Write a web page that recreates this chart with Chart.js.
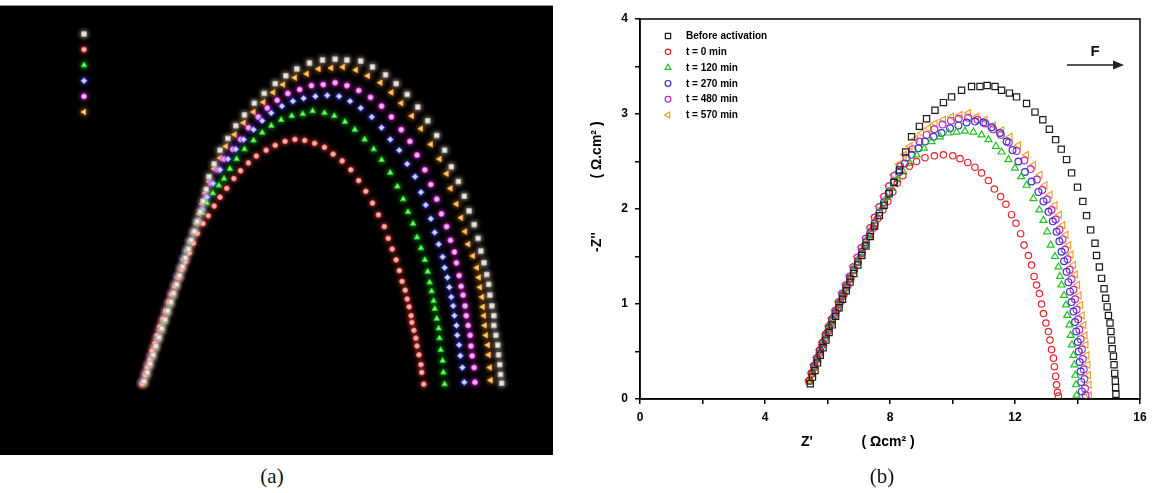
<!DOCTYPE html>
<html>
<head>
<meta charset="utf-8">
<script src="https://cdn.jsdelivr.net/npm/chart.js@4/dist/chart.umd.min.js"></script>
<style>
  html, body { margin: 0; padding: 0; background: #fff; }
  body { width: 1155px; height: 493px; position: relative; overflow: hidden; }
  #panelA { position: absolute; left: 0; top: 5px; width: 553px; height: 450px; background: #000; border-top: 1px solid #9a9a9a; box-sizing: border-box; }
  #panelB { position: absolute; left: 575px; top: 0; width: 580px; height: 465px; }
  .cap { position: absolute; top: 464px; font: 21px "Liberation Serif", "Times New Roman", serif; color: #111; transform: translateX(-50%); }
</style>
</head>
<body>
<div id="panelA"><canvas id="chartA"></canvas></div>
<div id="panelB"><canvas id="chartB"></canvas></div>
<div class="cap" style="left:272px">(a)</div>
<div class="cap" style="left:882px">(b)</div>

<script>
/* two Nyquist plots: (a) dark version, (b) Z' vs -Z'' in ohm.cm2 */
const FONT = '"Liberation Sans", Arial, Helvetica, sans-serif';
Chart.defaults.font.family = FONT;

const seriesLabels = ["Before activation", "t = 0 min", "t = 120 min", "t = 270 min", "t = 480 min", "t = 570 min"];
const xTickLabels = [0, 4, 8, 12, 16];
const yTickLabels = [0, 1, 2, 3, 4];

// ---- panel (b) data [Z', -Z''] ----
const bBefore = [[5.45,0.16],[5.52,0.23],[5.6,0.3],[5.68,0.38],[5.77,0.46],[5.86,0.54],[5.95,0.62],[6.05,0.7],[6.15,0.78],[6.26,0.87],[6.37,0.96],[6.48,1.05],[6.6,1.14],[6.72,1.23],[6.84,1.32],[6.97,1.41],[7.1,1.51],[7.23,1.61],[7.37,1.71],[7.51,1.82],[7.66,1.93],[7.81,2.04],[7.97,2.16],[8.13,2.28],[8.3,2.41],[8.5,2.6],[8.69,2.76],[8.94,2.87],[9.17,2.95],[9.44,3.04],[9.71,3.12],[9.97,3.18],[10.29,3.25],[10.61,3.29],[10.88,3.29],[11.11,3.3],[11.36,3.29],[11.57,3.25],[11.82,3.22],[12.05,3.18],[12.37,3.11],[12.64,3.02],[12.89,2.94],[13.1,2.84],[13.3,2.73],[13.48,2.63],[13.65,2.52],[13.81,2.38],[14.0,2.23],[14.17,2.08],[14.29,1.93],[14.42,1.78],[14.56,1.64],[14.61,1.51],[14.7,1.39],[14.77,1.27],[14.85,1.16],[14.9,1.06],[14.95,0.97],[14.99,0.88],[15.04,0.8],[15.07,0.71],[15.09,0.62],[15.11,0.53],[15.15,0.45],[15.17,0.36],[15.19,0.27],[15.21,0.19],[15.22,0.12],[15.23,0.05]];
const bT0 = [[5.42,0.19],[5.49,0.26],[5.57,0.33],[5.65,0.41],[5.74,0.48],[5.82,0.56],[5.92,0.64],[6.01,0.71],[6.1,0.79],[6.21,0.87],[6.31,0.94],[6.42,1.02],[6.53,1.1],[6.65,1.19],[6.75,1.27],[6.86,1.36],[6.97,1.44],[7.09,1.53],[7.2,1.62],[7.34,1.71],[7.47,1.8],[7.61,1.9],[7.77,1.99],[7.93,2.08],[8.09,2.18],[8.23,2.27],[8.41,2.35],[8.62,2.45],[8.85,2.5],[9.12,2.54],[9.42,2.56],[9.71,2.57],[10.01,2.56],[10.24,2.53],[10.49,2.49],[10.72,2.44],[10.93,2.38],[11.15,2.3],[11.34,2.21],[11.54,2.13],[11.71,2.05],[11.89,1.94],[12.03,1.85],[12.18,1.74],[12.29,1.62],[12.43,1.51],[12.53,1.41],[12.61,1.29],[12.69,1.2],[12.78,1.11],[12.85,1.0],[12.91,0.9],[12.99,0.8],[13.07,0.71],[13.12,0.62],[13.17,0.52],[13.23,0.43],[13.26,0.34],[13.3,0.24],[13.33,0.15],[13.36,0.07],[13.39,0.03]];
const bT120 = [[5.42,0.18],[5.5,0.26],[5.58,0.34],[5.67,0.42],[5.76,0.5],[5.85,0.58],[5.94,0.66],[6.04,0.74],[6.14,0.82],[6.24,0.9],[6.35,0.98],[6.46,1.07],[6.57,1.16],[6.69,1.25],[6.81,1.34],[6.93,1.43],[7.06,1.52],[7.19,1.62],[7.32,1.72],[7.46,1.82],[7.6,1.92],[7.75,2.02],[7.9,2.12],[8.06,2.22],[8.24,2.31],[8.43,2.39],[8.64,2.48],[8.85,2.57],[9.09,2.64],[9.33,2.71],[9.6,2.76],[9.87,2.8],[10.13,2.81],[10.4,2.82],[10.67,2.81],[10.93,2.78],[11.15,2.73],[11.39,2.66],[11.57,2.6],[11.79,2.52],[12.0,2.43],[12.2,2.34],[12.37,2.25],[12.59,2.11],[12.78,1.99],[12.91,1.88],[13.03,1.76],[13.14,1.62],[13.28,1.5],[13.39,1.39],[13.44,1.29],[13.49,1.2],[13.57,1.09],[13.63,0.99],[13.67,0.88],[13.74,0.78],[13.78,0.67],[13.82,0.57],[13.87,0.46],[13.9,0.36],[13.93,0.25],[13.95,0.15],[13.97,0.04]];
const bT270 = [[5.42,0.19],[5.5,0.27],[5.58,0.35],[5.67,0.43],[5.76,0.51],[5.85,0.59],[5.95,0.67],[6.05,0.75],[6.15,0.83],[6.26,0.91],[6.37,1.0],[6.48,1.09],[6.6,1.18],[6.72,1.27],[6.84,1.36],[6.97,1.45],[7.1,1.55],[7.23,1.65],[7.37,1.75],[7.51,1.85],[7.66,1.96],[7.81,2.07],[7.97,2.18],[8.13,2.29],[8.3,2.39],[8.48,2.48],[8.69,2.57],[8.91,2.64],[9.12,2.71],[9.39,2.76],[9.65,2.8],[9.92,2.85],[10.19,2.88],[10.45,2.91],[10.72,2.92],[10.99,2.91],[11.25,2.86],[11.52,2.8],[11.73,2.71],[11.92,2.62],[12.11,2.5],[12.32,2.39],[12.53,2.29],[12.75,2.18],[12.91,2.08],[13.07,1.97],[13.21,1.87],[13.33,1.76],[13.42,1.66],[13.49,1.55],[13.57,1.45],[13.65,1.34],[13.71,1.23],[13.76,1.13],[13.81,1.02],[13.87,0.92],[13.92,0.81],[13.96,0.71],[14.01,0.6],[14.04,0.5],[14.07,0.39],[14.1,0.29],[14.12,0.18],[14.14,0.08]];
const bT480 = [[5.41,0.19],[5.49,0.27],[5.57,0.35],[5.66,0.43],[5.75,0.51],[5.84,0.59],[5.94,0.68],[6.04,0.76],[6.14,0.84],[6.25,0.93],[6.36,1.02],[6.47,1.11],[6.59,1.2],[6.71,1.29],[6.83,1.39],[6.96,1.49],[7.09,1.59],[7.23,1.69],[7.37,1.8],[7.51,1.91],[7.66,2.02],[7.81,2.13],[7.97,2.24],[8.14,2.35],[8.33,2.45],[8.52,2.54],[8.72,2.63],[8.94,2.71],[9.17,2.78],[9.42,2.84],[9.68,2.89],[9.95,2.93],[10.2,2.95],[10.5,2.96],[10.8,2.94],[11.05,2.9],[11.3,2.84],[11.55,2.78],[11.8,2.7],[12.05,2.61],[12.3,2.51],[12.5,2.42],[12.7,2.31],[12.87,2.2],[13.02,2.1],[13.17,1.99],[13.3,1.89],[13.42,1.78],[13.52,1.68],[13.6,1.57],[13.68,1.47],[13.75,1.36],[13.81,1.26],[13.87,1.15],[13.92,1.05],[13.97,0.94],[14.02,0.84],[14.06,0.73],[14.1,0.63],[14.14,0.52],[14.17,0.42],[14.2,0.31],[14.22,0.21],[14.24,0.11],[14.26,0.04]];
const bT570 = [[5.4,0.2],[5.48,0.28],[5.56,0.36],[5.65,0.44],[5.74,0.52],[5.83,0.6],[5.93,0.68],[6.03,0.77],[6.13,0.85],[6.24,0.94],[6.35,1.03],[6.46,1.12],[6.58,1.21],[6.7,1.3],[6.82,1.4],[6.95,1.5],[7.08,1.6],[7.22,1.7],[7.36,1.81],[7.5,1.92],[7.65,2.03],[7.8,2.14],[7.96,2.25],[8.12,2.36],[8.29,2.47],[8.46,2.57],[8.64,2.66],[8.82,2.74],[9.01,2.8],[9.23,2.85],[9.44,2.9],[9.71,2.94],[9.97,2.97],[10.24,2.99],[10.51,3.01],[10.77,2.97],[11.04,2.94],[11.31,2.88],[11.57,2.83],[11.84,2.76],[12.11,2.67],[12.37,2.57],[12.59,2.46],[12.8,2.36],[12.96,2.25],[13.12,2.15],[13.28,2.04],[13.42,1.94],[13.53,1.83],[13.63,1.73],[13.72,1.62],[13.79,1.52],[13.87,1.41],[13.93,1.31],[14.0,1.2],[14.05,1.09],[14.1,0.99],[14.15,0.88],[14.2,0.78],[14.24,0.67],[14.27,0.57],[14.3,0.46],[14.33,0.36],[14.35,0.25],[14.37,0.15],[14.38,0.04]];

// ---- panel (a) data (no axes shown) ----
const aBefore = [[5.45,0.21],[5.53,0.3],[5.6,0.39],[5.68,0.48],[5.75,0.57],[5.83,0.66],[5.9,0.75],[5.98,0.84],[6.05,0.93],[6.13,1.02],[6.2,1.11],[6.28,1.2],[6.35,1.29],[6.43,1.38],[6.5,1.47],[6.58,1.56],[6.65,1.65],[6.73,1.74],[6.8,1.84],[6.88,1.94],[6.95,2.05],[7.03,2.17],[7.1,2.3],[7.23,2.43],[7.38,2.57],[7.58,2.69],[7.78,2.82],[8.0,2.93],[8.25,3.05],[8.5,3.15],[8.78,3.25],[9.05,3.33],[9.33,3.4],[9.65,3.46],[9.98,3.49],[10.3,3.5],[10.6,3.49],[10.95,3.48],[11.25,3.42],[11.58,3.34],[11.85,3.25],[12.13,3.14],[12.4,3.01],[12.65,2.87],[12.88,2.72],[13.08,2.57],[13.25,2.4],[13.43,2.25],[13.58,2.1],[13.7,1.95],[13.83,1.81],[13.93,1.67],[14.0,1.54],[14.08,1.42],[14.15,1.3],[14.2,1.2],[14.23,1.09],[14.28,0.98],[14.33,0.88],[14.33,0.78],[14.38,0.68],[14.43,0.58],[14.45,0.48],[14.48,0.38],[14.5,0.28],[14.53,0.19]];
const aT0 = [[5.4,0.18],[5.48,0.27],[5.53,0.35],[5.6,0.43],[5.65,0.52],[5.73,0.6],[5.78,0.68],[5.85,0.77],[5.93,0.85],[6.0,0.93],[6.08,1.02],[6.15,1.1],[6.23,1.18],[6.33,1.27],[6.4,1.35],[6.5,1.43],[6.6,1.52],[6.7,1.62],[6.8,1.72],[6.95,1.82],[7.08,1.9],[7.23,2.0],[7.38,2.09],[7.55,2.18],[7.73,2.28],[7.9,2.36],[8.1,2.44],[8.3,2.51],[8.55,2.57],[8.78,2.62],[9.03,2.66],[9.28,2.68],[9.53,2.67],[9.78,2.64],[10.03,2.6],[10.25,2.53],[10.48,2.46],[10.7,2.37],[10.9,2.26],[11.08,2.15],[11.25,2.03],[11.4,1.91],[11.55,1.79],[11.65,1.67],[11.75,1.56],[11.85,1.45],[11.93,1.34],[12.0,1.23],[12.08,1.14],[12.13,1.05],[12.18,0.97],[12.23,0.88],[12.25,0.81],[12.3,0.73],[12.35,0.65],[12.38,0.57],[12.43,0.48],[12.48,0.38],[12.5,0.3],[12.55,0.18]];
const aT120 = [[5.43,0.19],[5.5,0.28],[5.58,0.37],[5.65,0.46],[5.73,0.55],[5.8,0.64],[5.88,0.73],[5.95,0.82],[6.03,0.91],[6.1,1.0],[6.18,1.09],[6.25,1.18],[6.33,1.27],[6.4,1.36],[6.48,1.45],[6.55,1.54],[6.63,1.63],[6.73,1.73],[6.83,1.83],[6.93,1.93],[7.05,2.03],[7.2,2.13],[7.35,2.21],[7.48,2.28],[7.63,2.38],[7.8,2.48],[8.0,2.58],[8.23,2.67],[8.45,2.75],[8.68,2.82],[8.93,2.88],[9.2,2.92],[9.48,2.94],[9.73,2.97],[10.03,2.95],[10.28,2.92],[10.55,2.86],[10.8,2.78],[11.05,2.68],[11.28,2.58],[11.48,2.47],[11.7,2.34],[11.88,2.2],[12.03,2.07],[12.15,1.94],[12.28,1.82],[12.38,1.68],[12.48,1.57],[12.58,1.45],[12.65,1.33],[12.7,1.22],[12.75,1.13],[12.8,1.03],[12.83,0.95],[12.88,0.85],[12.93,0.75],[12.95,0.65],[12.98,0.53],[13.03,0.42],[13.05,0.3],[13.08,0.18]];
const aT270 = [[5.4,0.19],[5.48,0.28],[5.55,0.37],[5.63,0.46],[5.7,0.55],[5.78,0.64],[5.85,0.73],[5.93,0.82],[6.0,0.91],[6.08,1.0],[6.15,1.09],[6.23,1.18],[6.3,1.27],[6.38,1.36],[6.45,1.45],[6.53,1.54],[6.63,1.64],[6.73,1.74],[6.83,1.85],[6.93,1.96],[7.05,2.09],[7.2,2.23],[7.38,2.37],[7.58,2.48],[7.78,2.58],[7.98,2.68],[8.23,2.78],[8.45,2.87],[8.68,2.95],[8.95,3.02],[9.23,3.07],[9.5,3.1],[9.8,3.12],[10.1,3.13],[10.4,3.12],[10.68,3.07],[10.95,3.0],[11.23,2.91],[11.48,2.8],[11.7,2.68],[11.93,2.57],[12.13,2.43],[12.33,2.3],[12.48,2.14],[12.6,2.01],[12.73,1.87],[12.83,1.73],[12.93,1.61],[13.03,1.48],[13.08,1.37],[13.15,1.27],[13.2,1.17],[13.25,1.07],[13.3,0.98],[13.33,0.88],[13.38,0.78],[13.4,0.68],[13.45,0.58],[13.48,0.47],[13.53,0.35],[13.58,0.2]];
const aT480 = [[5.43,0.2],[5.5,0.29],[5.58,0.38],[5.65,0.47],[5.73,0.56],[5.8,0.65],[5.88,0.74],[5.95,0.83],[6.03,0.92],[6.1,1.01],[6.18,1.1],[6.25,1.19],[6.33,1.28],[6.4,1.37],[6.48,1.46],[6.55,1.55],[6.63,1.64],[6.73,1.74],[6.83,1.85],[6.93,1.97],[7.03,2.1],[7.15,2.23],[7.33,2.37],[7.48,2.48],[7.7,2.58],[7.9,2.68],[8.1,2.8],[8.35,2.91],[8.58,3.0],[8.83,3.08],[9.1,3.15],[9.4,3.19],[9.7,3.23],[10.0,3.24],[10.3,3.26],[10.6,3.23],[10.9,3.18],[11.2,3.11],[11.48,3.02],[11.73,2.91],[11.98,2.78],[12.2,2.66],[12.38,2.52],[12.58,2.37],[12.73,2.22],[12.88,2.07],[13.0,1.92],[13.13,1.79],[13.23,1.65],[13.33,1.53],[13.38,1.42],[13.45,1.29],[13.5,1.18],[13.55,1.09],[13.6,0.98],[13.63,0.88],[13.68,0.78],[13.73,0.68],[13.75,0.57],[13.78,0.47],[13.83,0.35],[13.85,0.2]];
const aT570 = [[5.43,0.19],[5.5,0.28],[5.58,0.37],[5.65,0.46],[5.73,0.55],[5.8,0.64],[5.88,0.73],[5.95,0.82],[6.03,0.91],[6.1,1.0],[6.18,1.09],[6.25,1.18],[6.33,1.27],[6.4,1.36],[6.48,1.45],[6.55,1.54],[6.63,1.63],[6.7,1.72],[6.78,1.82],[6.85,1.92],[6.93,2.02],[7.0,2.13],[7.1,2.25],[7.23,2.38],[7.38,2.49],[7.53,2.61],[7.75,2.73],[7.98,2.85],[8.23,2.96],[8.48,3.06],[8.73,3.16],[8.98,3.24],[9.28,3.31],[9.58,3.35],[9.88,3.4],[10.2,3.41],[10.5,3.42],[10.83,3.39],[11.13,3.33],[11.45,3.26],[11.73,3.16],[11.98,3.05],[12.25,2.92],[12.48,2.79],[12.73,2.63],[12.95,2.48],[13.13,2.33],[13.23,2.18],[13.38,2.02],[13.5,1.88],[13.6,1.74],[13.68,1.61],[13.8,1.49],[13.9,1.37],[13.95,1.27],[13.98,1.17],[14.03,1.07],[14.05,0.97],[14.08,0.88],[14.1,0.78],[14.13,0.68],[14.18,0.58],[14.2,0.48],[14.23,0.35],[14.25,0.22]];

const bData = [bBefore, bT0, bT120, bT270, bT480, bT570];
const aData = [aBefore, aT0, aT120, aT270, aT480, aT570];

// marker looks
const bStyles = [
  { color: "#1c1c1c", shape: "rect", r: 4.4, rot: 0 },
  { color: "#e6222c", shape: "circle", r: 3.2, rot: 0 },
  { color: "#1fc41f", shape: "triangle", r: 4, rot: 0 },
  { color: "#3434c4", shape: "circle", r: 3.4, rot: 0 },
  { color: "#c52ac5", shape: "circle", r: 3.4, rot: 0 },
  { color: "#eea12a", shape: "triangle", r: 4, rot: -90 },
];
const aStyles = [
  { fill: "#f6f1ea", edge: "#b8aea4", glow: "#d8d0c8", shape: "rect", r: 3.2, rot: 0 },
  { fill: "#ffd0c8", edge: "#ff6a6a", glow: "#ff5050", shape: "circle", r: 2.4, rot: 0 },
  { fill: "#a8ffa8", edge: "#22cc22", glow: "#20e020", shape: "triangle", r: 3.2, rot: 0 },
  { fill: "#ececff", edge: "#7070ff", glow: "#5050ff", shape: "rectRot", r: 3, rot: 0 },
  { fill: "#ffd6ff", edge: "#e050e0", glow: "#e030e0", shape: "circle", r: 2.6, rot: 0 },
  { fill: "#ffe2a8", edge: "#e8a040", glow: "#f09020", shape: "triangle", r: 3.2, rot: -90 },
];

const toPts = (arr) => arr.map((p) => ({ x: p[0], y: p[1] }));

function drawMarker(ctx, shape, x, y, r, rot) {
  ctx.beginPath();
  if (shape === "rect") {
    const s = r * Math.SQRT1_2;
    ctx.rect(x - s, y - s, 2 * s, 2 * s);
  } else if (shape === "rectRot") {
    ctx.moveTo(x, y - r); ctx.lineTo(x + r, y); ctx.lineTo(x, y + r); ctx.lineTo(x - r, y); ctx.closePath();
  } else if (shape === "triangle") {
    let a = ((rot || 0) * Math.PI) / 180;
    for (let i = 0; i < 3; i++) {
      const px = x + Math.sin(a) * r, py = y - Math.cos(a) * r;
      if (i) ctx.lineTo(px, py); else ctx.moveTo(px, py);
      a += (2 * Math.PI) / 3;
    }
    ctx.closePath();
  } else {
    ctx.arc(x, y, r, 0, Math.PI * 2);
  }
  ctx.fill();
  ctx.stroke();
}

/* ---------- panel (b) ---------- */
const OFFB = 575; // canvas left in page px

const decorB = {
  id: "decorB",
  afterDraw(chart) {
    const { ctx, chartArea: a } = chart;
    ctx.save();
    // box
    ctx.strokeStyle = "#000";
    ctx.lineWidth = 1.5;
    ctx.strokeRect(a.left, a.top, a.right - a.left, a.bottom - a.top);

    // legend
    ctx.font = "bold 10px " + FONT;
    ctx.textBaseline = "middle";
    ctx.textAlign = "left";
    seriesLabels.forEach((lab, i) => {
      const st = bStyles[i];
      const y = 36 + i * 15.8;
      ctx.strokeStyle = st.color;
      ctx.fillStyle = "rgba(0,0,0,0)";
      ctx.lineWidth = 1.2;
      drawMarker(ctx, st.shape, 668 - OFFB, y, st.r * 0.85, st.rot);
      ctx.fillStyle = "#000";
      ctx.fillText(lab, 686 - OFFB, y + 0.5);
    });

    // F arrow
    ctx.font = "bold 15px " + FONT;
    ctx.textAlign = "center";
    ctx.fillStyle = "#111";
    ctx.fillText("F", 1095 - OFFB, 52);
    ctx.strokeStyle = "#555";
    ctx.lineWidth = 2;
    ctx.beginPath();
    ctx.moveTo(1067 - OFFB, 65);
    ctx.lineTo(1116 - OFFB, 65);
    ctx.stroke();
    ctx.fillStyle = "#222";
    ctx.beginPath();
    ctx.moveTo(1124 - OFFB, 65);
    ctx.lineTo(1113 - OFFB, 60.5);
    ctx.lineTo(1113 - OFFB, 69.5);
    ctx.closePath();
    ctx.fill();

    // axis titles
    ctx.fillStyle = "#000";
    ctx.font = "bold 14px " + FONT;
    ctx.fillText("Z'", 807 - OFFB, 442);
    ctx.fillText("( \u03A9cm\u00B2 )", 888 - OFFB, 442);
    ctx.translate(597 - OFFB, 0);
    ctx.rotate(-Math.PI / 2);
    ctx.fillText("-Z''", -242, 0);
    ctx.fillText("( \u03A9.cm\u00B2 )", -150, 0);
    ctx.restore();
  },
};

const tickFont = { family: FONT, size: 12, weight: "bold" };

new Chart(document.getElementById("chartB"), {
  type: "scatter",
  data: {
    datasets: bData.map((d, i) => ({
      label: seriesLabels[i],
      data: toPts(d),
      showLine: false,
      pointStyle: bStyles[i].shape,
      rotation: bStyles[i].rot,
      pointRadius: bStyles[i].r,
      pointHoverRadius: bStyles[i].r,
      borderColor: bStyles[i].color,
      backgroundColor: "rgba(0,0,0,0)",
      pointBorderWidth: 1.2,
    })),
  },
  options: {
    responsive: true,
    maintainAspectRatio: false,
    animation: false,
    events: [],
    layout: { padding: { left: 0, right: 15, top: 19, bottom: 0 } },
    plugins: { legend: { display: false }, tooltip: { enabled: false } },
    scales: {
      x: {
        type: "linear",
        min: 0,
        max: 16,
        ticks: {
          stepSize: 2,
          autoSkip: false,
          maxRotation: 0,
          padding: 6,
          color: "#000",
          font: tickFont,
          callback: (v) => (xTickLabels.includes(v) ? String(v) : ""),
        },
        grid: { drawOnChartArea: false, drawTicks: true, tickLength: 5, color: "#000", lineWidth: 1.5 },
        border: { display: true, color: "#000", width: 1.5 },
        afterFit: (s) => { s.height = 66; },
      },
      y: {
        type: "linear",
        min: 0,
        max: 4,
        ticks: {
          stepSize: 0.5,
          autoSkip: false,
          padding: 7,
          color: "#000",
          font: tickFont,
          callback: (v) => (yTickLabels.includes(v) ? String(v) : ""),
        },
        grid: { drawOnChartArea: false, drawTicks: true, tickLength: 5, color: "#000", lineWidth: 1.5 },
        border: { display: true, color: "#000", width: 1.5 },
        afterFit: (s) => { s.width = 65; },
      },
    },
  },
  plugins: [decorB],
});

/* ---------- panel (a) ---------- */
const glowA = {
  id: "glowA",
  beforeDatasetDraw(chart, args) {
    const c = chart.ctx;
    c.save();
    c.shadowColor = aStyles[args.index].glow;
    c.shadowBlur = 5;
  },
  afterDatasetDraw(chart) {
    chart.ctx.restore();
  },
  afterDraw(chart) {
    // legend: markers only, text is black on black
    const ctx = chart.ctx;
    ctx.save();
    ctx.font = "bold 10px " + FONT;
    ctx.textBaseline = "middle";
    seriesLabels.forEach((lab, i) => {
      const st = aStyles[i];
      const y = 33 + i * 15.6 - 5;
      ctx.shadowColor = st.glow;
      ctx.shadowBlur = 5;
      ctx.fillStyle = st.fill;
      ctx.strokeStyle = st.edge;
      ctx.lineWidth = 1;
      drawMarker(ctx, st.shape, 84, y, st.r, st.rot);
      ctx.shadowBlur = 0;
      ctx.fillStyle = "#000";
      ctx.fillText(lab, 100, y);
    });
    ctx.restore();
  },
};

new Chart(document.getElementById("chartA"), {
  type: "scatter",
  data: {
    datasets: aData.map((d, i) => ({
      label: seriesLabels[i],
      data: toPts(d),
      showLine: false,
      pointStyle: aStyles[i].shape,
      rotation: aStyles[i].rot,
      pointRadius: aStyles[i].r,
      pointHoverRadius: aStyles[i].r,
      borderColor: aStyles[i].edge,
      backgroundColor: aStyles[i].fill,
      pointBorderWidth: 1,
    })),
  },
  options: {
    responsive: true,
    maintainAspectRatio: false,
    animation: false,
    events: [],
    layout: { padding: 0 },
    plugins: { legend: { display: false }, tooltip: { enabled: false } },
    scales: {
      x: { type: "linear", display: false, min: 1.9, max: 15.725 },
      y: { type: "linear", display: false, min: -0.5, max: 4.0 },
    },
  },
  plugins: [glowA],
});
</script>
</body>
</html>
